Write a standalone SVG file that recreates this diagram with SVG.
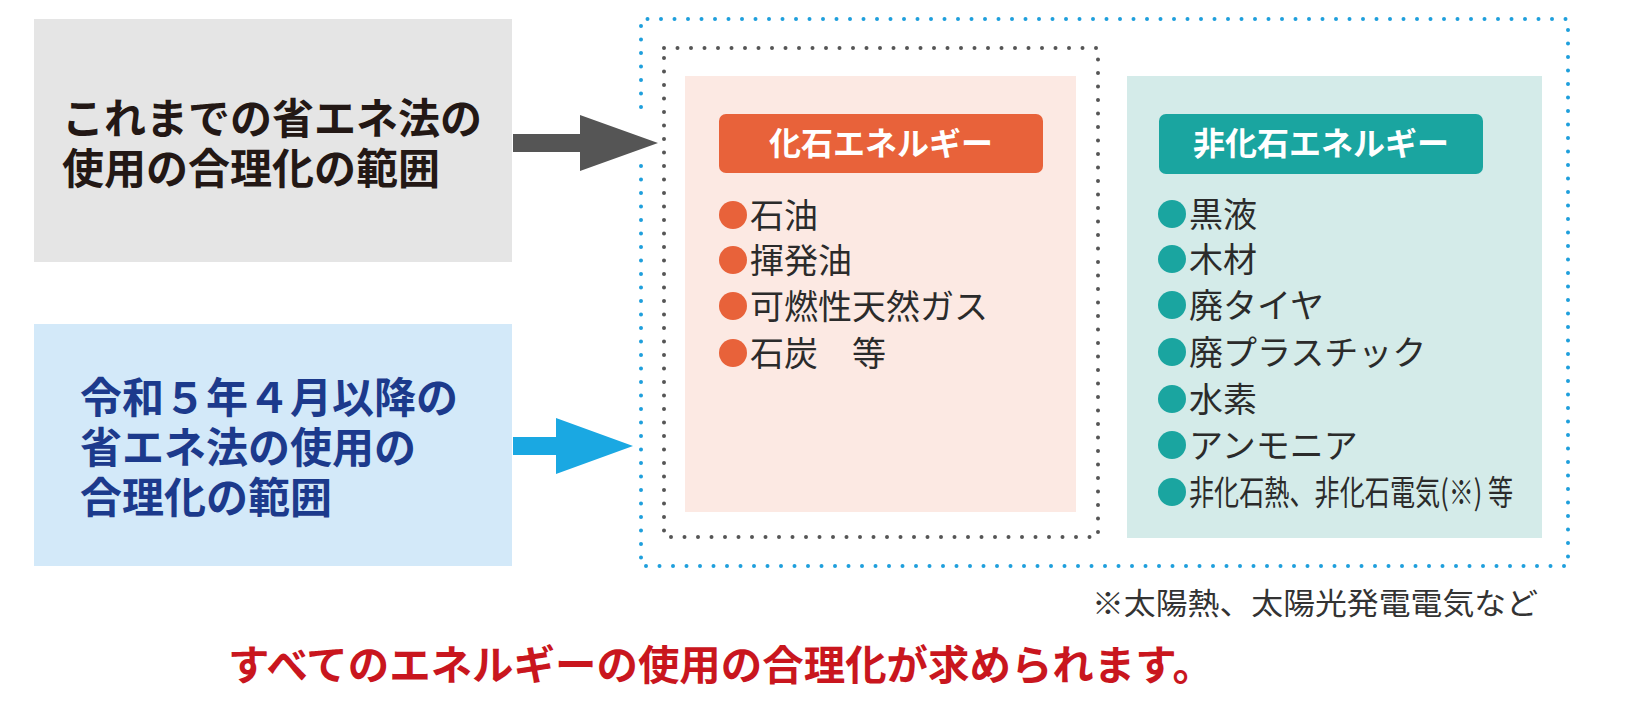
<svg xmlns="http://www.w3.org/2000/svg" width="1628" height="720" viewBox="0 0 1628 720">
<style>
.jp{font-family:"Noto Sans CJK JP","Noto Sans CJK SC",sans-serif}
.lead{font-size:42px;font-weight:700}
.hdr{font-size:32px;font-weight:700;fill:#fff;text-anchor:middle}
.item{font-size:34px;fill:#2b2b2b}
.dotb{fill:none;stroke:#1e9fdc;stroke-width:4;stroke-linecap:round;stroke-dasharray:0 13.5}
.dotg{fill:none;stroke:#555;stroke-width:4;stroke-linecap:round;stroke-dasharray:0 13.5}
</style>
<rect width="1628" height="720" fill="#fff"/>
<g id="frame-all">
<path class="dotb" d="M641,166 V566 H1568 V19 H641 V120"/>
</g>
<g id="frame-old">
<rect class="dotg" x="664" y="48" width="434" height="489"/>
</g>
<g id="old-scope">
<rect x="34" y="19" width="478" height="243" fill="#e5e5e5"/>
<text class="jp lead" fill="#231815" x="62" y="134">これまでの省エネ法の</text>
<text class="jp lead" fill="#231815" x="62" y="184">使用の合理化の範囲</text>
</g>
<g id="new-scope">
<rect x="34" y="324" width="478" height="242" fill="#d3e9f9"/>
<text class="jp lead" fill="#1c3a8c" x="80" y="413">令和５年４月以降の</text>
<text class="jp lead" fill="#1c3a8c" x="80" y="463">省エネ法の使用の</text>
<text class="jp lead" fill="#1c3a8c" x="80" y="513">合理化の範囲</text>
</g>
<g id="connectors">
<polygon points="513,134 580,134 580,115 658,143 580,171 580,152 513,152" fill="#555"/>
<polygon points="513,437 556,437 556,418 633,446 556,474 556,455 513,455" fill="#1aa8e2"/>
</g>
<g id="fossil">
<rect x="685" y="76" width="391" height="436" fill="#fce9e3"/>
<rect x="719" y="114" width="324" height="59" rx="7" fill="#e8623a"/>
<text class="jp hdr" x="881" y="155">化石エネルギー</text>
<g fill="#e8623a">
<circle cx="733" cy="215" r="14"/><circle cx="733" cy="260" r="14"/><circle cx="733" cy="306" r="14"/><circle cx="733" cy="353" r="14"/>
</g>
<text class="jp item" x="750" y="228">石油</text>
<text class="jp item" x="750" y="273">揮発油</text>
<text class="jp item" x="750" y="319">可燃性天然ガス</text>
<text class="jp item" x="750" y="366">石炭　等</text>
</g>
<g id="nonfossil">
<rect x="1127" y="76" width="415" height="462" fill="#d4ebe9"/>
<rect x="1159" y="114" width="324" height="60" rx="7" fill="#1aa5a0"/>
<text class="jp hdr" x="1321" y="155">非化石エネルギー</text>
<g fill="#1aa5a0">
<circle cx="1172" cy="214" r="14"/><circle cx="1172" cy="259" r="14"/><circle cx="1172" cy="305" r="14"/><circle cx="1172" cy="352" r="14"/><circle cx="1172" cy="399" r="14"/><circle cx="1172" cy="445" r="14"/><circle cx="1172" cy="492" r="14"/>
</g>
<text class="jp item" x="1189" y="227">黒液</text>
<text class="jp item" x="1189" y="272">木材</text>
<text class="jp item" x="1189" y="318">廃タイヤ</text>
<text class="jp item" x="1189" y="365">廃プラスチック</text>
<text class="jp item" x="1189" y="412">水素</text>
<text class="jp item" x="1189" y="458">アンモニア</text>
<text class="jp item" x="1189" y="505" textLength="324" lengthAdjust="spacingAndGlyphs">非化石熱、非化石電気(※) 等</text>
</g>
<text class="jp" x="1538" y="614" font-size="30" fill="#333" text-anchor="end" textLength="446" lengthAdjust="spacingAndGlyphs">※太陽熱、太陽光発電電気など</text>
<text class="jp" x="228" y="680" font-size="41" font-weight="700" fill="#c9161e" textLength="986" lengthAdjust="spacingAndGlyphs">すべてのエネルギーの使用の合理化が求められます。</text>
</svg>
